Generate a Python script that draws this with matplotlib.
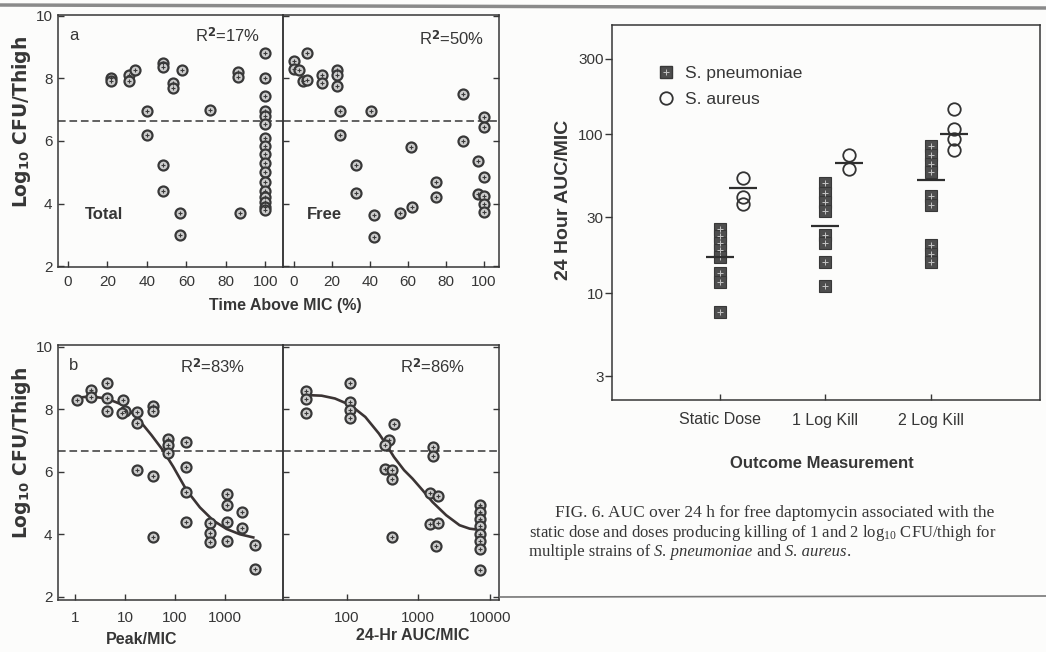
import matplotlib
matplotlib.use("Agg")
import matplotlib.pyplot as plt
from matplotlib import transforms
from matplotlib.lines import Line2D
from matplotlib.legend_handler import HandlerTuple

# panel a, total drug: time above MIC (%) vs log10 CFU/thigh
total_x = [22, 22, 31, 31, 34, 40, 40, 48, 48, 48, 48, 53, 53, 58, 57, 57, 72, 86, 86, 87,
           100, 100, 100, 100, 100, 100, 100, 100, 100, 100, 100, 100, 100, 100, 100, 100, 100]
total_y = [8.0, 7.9, 8.1, 7.9, 8.25, 6.95, 6.2, 8.5, 8.35, 5.25, 4.4, 7.85, 7.7, 8.25, 3.7, 3.0, 7.0, 8.2, 8.05, 3.7,
           8.8, 8.0, 7.45, 6.95, 6.8, 6.55, 6.1, 5.85, 5.6, 5.3, 5.0, 4.7, 4.4, 4.2, 4.05, 3.9, 3.8]

# panel a, free drug
free_x = [0, 0, 3, 7, 5, 7, 15, 15, 23, 23, 23, 24.5, 24.5, 33, 33, 40.5, 42, 42, 56, 62, 61.5,
          75, 75, 89, 89, 97, 100, 100, 100, 97, 100, 100, 100]
free_y = [8.55, 8.3, 8.25, 8.8, 7.9, 7.95, 8.1, 7.85, 8.25, 8.1, 7.75, 6.95, 6.2, 5.25, 4.35, 6.95, 3.65, 2.95,
          3.7, 3.9, 5.8, 4.7, 4.2, 7.5, 6.0, 5.35, 6.75, 6.45, 4.85, 4.3, 4.25, 4.0, 3.75]

# panel b, peak/MIC
peak_x = [1.1, 2.15, 2.15, 4.3, 4.3, 4.3, 9.3, 10, 8.8, 17.6, 17.6, 17.6, 37, 37, 37, 37, 74, 74, 74,
          170, 170, 170, 170, 515, 515, 515, 1080, 1080, 1080, 1080, 2150, 2150, 3980, 3980]
peak_y = [8.3, 8.6, 8.4, 8.85, 8.35, 7.95, 8.3, 7.95, 7.88, 7.9, 7.55, 6.05, 8.1, 7.95, 5.85, 3.9, 7.05, 6.85, 6.6,
          6.95, 6.15, 5.35, 4.4, 4.35, 4.05, 3.75, 5.3, 4.95, 4.4, 3.8, 4.7, 4.2, 3.65, 2.9]
peak_fit_x = [1, 2.0, 4.3, 9.3, 17.6, 34, 58.5, 92.6, 171, 316, 584, 1080, 1995, 3690]
peak_fit_y = [8.35, 8.41, 8.34, 8.13, 7.73, 7.17, 6.67, 6.16, 5.41, 4.86, 4.44, 4.17, 4.0, 3.9]

# panel b, 24-h AUC/MIC
auc_x = [27.6, 27.6, 27.6, 113, 113, 113, 113, 459, 390, 343, 343, 435, 435, 430, 1590, 1590,
         1460, 1870, 1460, 1870, 1780, 7230, 7230, 7230, 7230, 7230, 7230, 7230, 7230]
auc_y = [8.58, 8.34, 7.88, 8.82, 8.23, 7.97, 7.73, 7.54, 7.0, 6.85, 6.1, 6.05, 5.76, 3.9, 6.8, 6.5,
         5.32, 5.23, 4.32, 4.36, 3.62, 4.95, 4.71, 4.5, 4.26, 4.02, 3.79, 3.54, 2.87]
auc_fit_x = [27.6, 45, 69, 113, 183, 283, 351, 459, 635, 832, 1150, 1585, 2455, 3776, 5224, 7228]
auc_fit_y = [8.45, 8.43, 8.34, 8.13, 7.75, 7.22, 6.90, 6.47, 6.05, 5.78, 5.41, 5.03, 4.61, 4.29, 4.18, 4.14]

stasis_level = 6.65

# fig 6: AUC/MIC per outcome
outcomes = ["Static Dose", "1 Log Kill", "2 Log Kill"]
pneumo = [[25.3, 22.8, 20.6, 18.6, 16.8, 13.4, 11.8, 7.65],
          [49.2, 43, 37.5, 32.8, 23.2, 20.6, 15.6, 11.1],
          [84.1, 74.1, 65.4, 57.7, 40.7, 35.7, 20.0, 17.7, 15.7]]
aureus = [[53.5, 40.3, 36.6],
          [73.8, 60.3],
          [145, 108.6, 94, 79.3]]
pneumo_mean = [16.8, 26.5, 52]
aureus_mean = [45.7, 66.4, 100]

INK = "#363636"
plt.rcParams["font.family"] = ["Liberation Sans", "DejaVu Sans"]
plt.rcParams["mathtext.fontset"] = "custom"
plt.rcParams["mathtext.rm"] = "Liberation Serif"
plt.rcParams["mathtext.it"] = "Liberation Serif:italic"
plt.rcParams["mathtext.bf"] = "DejaVu Sans:bold"
plt.rcParams["text.color"] = INK

W, H = 1046, 652
fig = plt.figure(figsize=(W / 100, H / 100), dpi=100)
fig.patch.set_facecolor("#fcfcfb")


def box(x0, y0, x1, y1):
    return [x0 / W, 1 - y1 / H, (x1 - x0) / W, (y1 - y0) / H]


ax_a = fig.add_axes(box(58, 15, 283, 267))
ax_f = fig.add_axes(box(283, 15, 499, 267))
ax_b = fig.add_axes(box(58, 345, 283, 600))
ax_c = fig.add_axes(box(283, 345, 499, 600))
ax_r = fig.add_axes(box(612, 25, 1040, 400))

for ax in [ax_a, ax_f, ax_b, ax_c, ax_r]:
    ax.set_facecolor("none")
    for s in ax.spines.values():
        s.set_linewidth(1.1)
        s.set_color(INK)


def dots(ax, x, y):
    ax.plot(x, y, "o", ms=7.2, mfc="#cdcdcd", mec="#383838", mew=1.6, ls="none", zorder=3)
    ax.plot(x, y, "+", ms=3.5, mew=0.8, color="#3a3a3a", ls="none", zorder=4)


for ax, first in [(ax_a, True), (ax_f, False), (ax_b, True), (ax_c, False)]:
    ax.axhline(stasis_level, color=INK, lw=1.1, ls=(0, (5, 2.5)), zorder=1)
    ax.set_yticks([2, 4, 6, 8, 10])
    ax.tick_params(direction="in", length=4, width=1, colors=INK, labelsize=11, pad=4)
    ax.tick_params(axis="x", pad=6)
    ax.tick_params(axis="y", right=not first, labelleft=first)
    ax.minorticks_off()

ax_a.set_ylim(1.98, 10.02)
ax_f.set_ylim(1.98, 10.02)
ax_b.set_ylim(1.9, 10.05)
ax_c.set_ylim(1.9, 10.05)

dots(ax_a, total_x, total_y)
dots(ax_f, free_x, free_y)
for ax in [ax_a, ax_f]:
    ax.set_xticks([0, 20, 40, 60, 80, 100])
ax_a.set_xlim(-5.1, 109)
ax_f.set_xlim(-5.6, 108)

ax_b.plot(peak_fit_x, peak_fit_y, color="#3b3434", lw=1.9, zorder=2)
dots(ax_b, peak_x, peak_y)
ax_b.set_xscale("log")
ax_b.set_xlim(0.46, 14500)
ax_b.set_xticks([1, 10, 100, 1000], ["1", "10", "100", "1000"])

ax_c.plot(auc_fit_x, auc_fit_y, color="#3b3434", lw=1.9, zorder=2)
dots(ax_c, auc_x, auc_y)
ax_c.set_xscale("log")
ax_c.set_xlim(13, 13400)
ax_c.set_xticks([100, 1000, 10000], ["100", "1000", "10000"])
for ax in [ax_b, ax_c]:
    ax.minorticks_off()
    ax.tick_params(axis="x", pad=8)

# panel annotations
ax_a.text(0.05, 0.95, "a", transform=ax_a.transAxes, fontsize=12, va="top")
ax_b.text(0.05, 0.95, "b", transform=ax_b.transAxes, fontsize=12, va="top")
ax_a.text(0.90, 0.955, r"R$^{\mathbf{2}}$=17%", transform=ax_a.transAxes, fontsize=12, ha="right", va="top")
ax_f.text(0.93, 0.945, r"R$^{\mathbf{2}}$=50%", transform=ax_f.transAxes, fontsize=12, ha="right", va="top")
ax_b.text(0.83, 0.95, r"R$^{\mathbf{2}}$=83%", transform=ax_b.transAxes, fontsize=12, ha="right", va="top")
ax_c.text(0.845, 0.953, r"R$^{\mathbf{2}}$=86%", transform=ax_c.transAxes, fontsize=12, ha="right", va="top")
ax_a.text(0.12, 0.21, "Total", transform=ax_a.transAxes, fontsize=12, weight="bold", va="center")
ax_f.text(0.11, 0.21, "Free", transform=ax_f.transAxes, fontsize=12, weight="bold", va="center")

ylab = r"Log$_{\mathbf{10}}$ CFU/Thigh"
fig.text(22 / W, 1 - 122 / H, ylab, rotation=90, ha="center", va="center",
         fontsize=13.5, weight="bold", family="DejaVu Sans")
fig.text(22 / W, 1 - 453 / H, ylab, rotation=90, ha="center", va="center",
         fontsize=13.5, weight="bold", family="DejaVu Sans")
fig.text(285 / W, 1 - 306 / H, "Time Above MIC (%)", ha="center", va="center", fontsize=11.5, weight="bold")
fig.text(142 / W, 1 - 640 / H, "Peak/MIC", ha="center", va="center", fontsize=11.5, weight="bold")
fig.text(413 / W, 1 - 636 / H, "24-Hr AUC/MIC", ha="center", va="center", fontsize=11.5, weight="bold")

# right-hand figure
pos = list(range(1, len(outcomes) + 1))
for i, p in enumerate(pos):
    n = len(pneumo[i])
    ax_r.plot([p] * n, pneumo[i], "s", ms=8.5, mfc="#4e4e4e", mec="#383838", mew=0.8, ls="none", zorder=3)
    ax_r.plot([p] * n, pneumo[i], "+", ms=4.5, mew=0.7, color="#c4c4c4", ls="none", zorder=4)
    m = len(aureus[i])
    ax_r.plot([p + 0.22] * m, aureus[i], "o", ms=9, mfc="none", mec="#333333", mew=1.3, ls="none", zorder=3)
ax_r.plot(pos, pneumo_mean, "_", ms=20, mew=1.6, color="#2e2e2e", ls="none", zorder=5)
ax_r.plot([p + 0.22 for p in pos], aureus_mean, "_", ms=20, mew=1.6, color="#2e2e2e", ls="none", zorder=5)

ax_r.set_yscale("log")
ax_r.set_ylim(2.12, 490)
ax_r.set_yticks([3, 10, 30, 100, 300], ["3", "10", "30", "100", "300"])
ax_r.minorticks_off()
ax_r.set_xlim(-0.02, 4.03)
ax_r.set_xticks(pos, outcomes)
ax_r.tick_params(axis="y", direction="out", length=5, width=1, colors=INK, labelsize=11, pad=1)
ax_r.tick_params(axis="x", direction="in", length=4, width=1, colors=INK, labelsize=11.5, pad=9)

sq = Line2D([], [], marker="s", ms=8.5, mfc="#4e4e4e", mec="#383838", ls="none")
sq_p = Line2D([], [], marker="+", ms=4.5, mew=0.7, color="#c4c4c4", ls="none")
ci = Line2D([], [], marker="o", ms=9, mfc="none", mec="#333333", mew=1.3, ls="none")
ax_r.legend([(sq, sq_p), ci], ["S. pneumoniae", "S. aureus"], handler_map={tuple: HandlerTuple(ndivide=1)},
            loc="upper left", bbox_to_anchor=(0.105, 0.89), frameon=False, fontsize=12.5,
            borderpad=0, borderaxespad=0, handlelength=1.1, handletextpad=0.5, labelspacing=0.6)

fig.text(563 / W, 1 - 200 / H, "24 Hour AUC/MIC", rotation=90, ha="center", va="center",
         fontsize=14, weight="bold")
fig.text(822 / W, 1 - 463 / H, "Outcome Measurement", ha="center", va="center", fontsize=12, weight="bold")

# caption, one run of text after another so italics and subscripts sit on one baseline
renderer = fig.canvas.get_renderer()


def run_text(x, y, pieces, size=12):
    tr = fig.transFigure
    for s, style in pieces:
        t = fig.text(x, y, s, transform=tr, fontsize=size, family="Liberation Serif",
                     style=style, va="baseline", ha="left")
        t.draw(renderer)
        ex = t.get_window_extent(renderer)
        tr = transforms.offset_copy(t.get_transform(), fig=fig, x=ex.width, units="dots")


run_text(555 / W, 1 - 517 / H, [("FIG. 6. AUC over 24 h for free daptomycin associated with the", "normal")], 12.5)
run_text(529 / W, 1 - 537 / H, [(r"static dose and doses producing killing of 1 and 2 log$_{10}$ CFU/thigh for", "normal")])
run_text(529 / W, 1 - 556 / H, [("multiple strains of ", "normal"), ("S. pneumoniae", "italic"),
                                (" and ", "normal"), ("S. aureus", "italic"), (".", "normal")])

# page edges of the scan
fig.add_artist(Line2D([0, 1], [1 - 5 / H, 1 - 8 / H], transform=fig.transFigure, color="#8a8a8a", lw=2.5))
fig.add_artist(Line2D([500 / W, 1], [1 - 597 / H, 1 - 596 / H], transform=fig.transFigure, color="#777777", lw=1.2))

fig.savefig("out.png", dpi=100, facecolor=fig.get_facecolor())
